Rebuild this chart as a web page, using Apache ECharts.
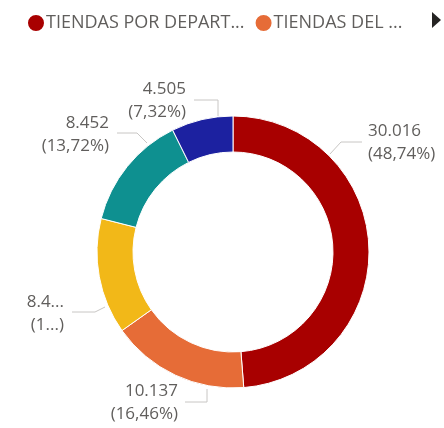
<!DOCTYPE html>
<html>
<head>
<meta charset="utf-8">
<script src="https://cdn.jsdelivr.net/npm/echarts@6/dist/echarts.min.js"></script>
<style>
  html, body { margin: 0; padding: 0; background: #ffffff; }
  #chart { width: 444px; height: 428px; }
</style>
</head>
<body>
<div id="chart"></div>
<script>
// datos del gráfico
const categorias = ['TIENDAS POR DEPARTAMENTO', 'TIENDAS DEL HOGAR', 'SUPERMERCADOS', 'TIENDAS ESPECIALIZADAS', 'OTROS FORMATOS'];
const valores = [30016, 10137, 8474, 8452, 4505];
const colores = ['#A80000', '#E66C37', '#F2B818', '#0E9090', '#1C21A0'];
const leyendaVisible = ['TIENDAS POR DEPARTAMENTO', 'TIENDAS DEL HOGAR'];

const FONT = '"Segoe UI", "Open Sans", sans-serif';
const GRIS = '#605E5C';

// formato es-ES: 30.016 / 48,74
const fmtNum = v => String(v).replace(/\B(?=(\d{3})+(?!\d))/g, '.');
const fmtPct = p => p.toFixed(2).replace('.', ',');

// posiciones de las etiquetas (estilo Power BI)
const etiquetas = [
  { x: 368, y: 143, align: 'left',  line: [[330, 154], [341, 142], [362, 142]] },
  { x: 178, y: 403, align: 'right', line: [[207, 389], [207, 402], [185, 402]] },
  { x: 64,  y: 314, align: 'right', line: [[105, 307], [95, 312], [72, 312]] },
  { x: 109, y: 135, align: 'right', line: [[147, 143], [137, 133], [117, 133]] },
  { x: 186, y: 101, align: 'right', line: [[218, 116], [218, 100], [194, 100]] }
];

const chart = echarts.init(document.getElementById('chart'));

const option = {
  backgroundColor: '#ffffff',
  color: colores,
  legend: {
    data: leyendaVisible,
    left: 21,
    top: 8,
    icon: 'circle',
    itemWidth: 18,
    itemHeight: 18,
    itemGap: 9,
    textStyle: { color: GRIS, fontFamily: FONT, fontSize: 18, padding: [0, 0, 0, -4] },
    formatter: name => name.length > 18 ? name.slice(0, 18) + '...' : (name.length > 12 ? name.slice(0, 12) + '...' : name),
    selectedMode: false
  },
  graphic: [{
    type: 'polygon',
    shape: { points: [[432, 12], [441, 20], [432, 28]] },
    style: { fill: '#252423' }
  }],
  series: [{
    type: 'pie',
    center: [233, 252],
    radius: [100, 136],
    startAngle: 90,
    clockwise: true,
    avoidLabelOverlap: false,
    itemStyle: { borderColor: '#ffffff', borderWidth: 1 },
    label: {
      show: true,
      position: 'outside',
      color: GRIS,
      fontFamily: FONT,
      fontSize: 17,
      lineHeight: 23,
      formatter: p => {
        let v = fmtNum(p.value);
        let pc = fmtPct(p.percent) + '%';
        if (p.dataIndex === 2) {
          // etiqueta recortada por falta de espacio
          v = v.slice(0, 3) + '...';
          pc = pc.slice(0, 1) + '...';
        }
        return v + '\n(' + pc + ')';
      }
    },
    labelLine: { show: true, lineStyle: { color: '#C8C6C4', width: 1 } },
    labelLayout: p => {
      const e = etiquetas[p.dataIndex];
      return {
        x: e.x,
        y: e.y,
        align: e.align,
        verticalAlign: 'middle',
        labelLinePoints: e.line
      };
    },
    emphasis: { disabled: true },
    data: categorias.map((n, i) => ({ name: n, value: valores[i] }))
  }]
};

chart.setOption(option);
</script>
</body>
</html>
